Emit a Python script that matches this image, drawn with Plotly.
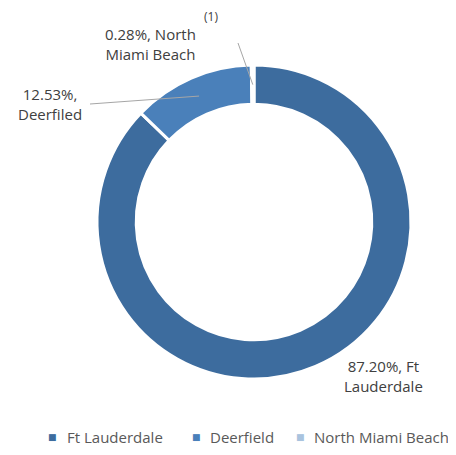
import math
import plotly.graph_objects as go

labels = ["Ft Lauderdale", "Deerfield", "North Miami Beach"]
values = [87.20, 12.53, 0.28]
label_texts = ["87.20%, Ft<br>Lauderdale", "12.53%,<br>Deerfiled", "0.28%, North<br>Miami Beach"]
colors = ["#3d6c9e", "#4a80ba", "#a9c3de"]

OFF = 8  # page body margin
W, H = 456 - OFF, 455 - OFF
cx, cy, R = 254 - OFF, 222 - OFF, 157
hole = 0.75

fig = go.Figure(go.Pie(
    labels=labels, values=values, sort=False, direction="clockwise", rotation=0,
    hole=hole, textinfo="none", hoverinfo="skip", showlegend=False,
    marker=dict(colors=colors, line=dict(color="white", width=3)),
    domain=dict(x=[(cx - R) / W, (cx + R) / W], y=[(H - cy - R) / H, (H - cy + R) / H]),
))

total = sum(values)
cum = 0
mids = []
for v in values:
    mids.append((cum + v / 2) / total * 2 * math.pi)
    cum += v

def px2paper(x, y):
    return (x - OFF) / W, 1 - (y - OFF) / H

rmid = R * (1 + hole) / 2
shapes = []
leader_ends = {1: (90, 104), 2: (238, 43)}
for i, (ex, ey) in leader_ends.items():
    a = mids[i]
    px, py = cx + OFF + rmid * math.sin(a), cy + OFF - rmid * math.cos(a)
    x0, y0 = px2paper(px, py)
    x1, y1 = px2paper(ex, ey)
    shapes.append(dict(type="line", xref="paper", yref="paper", x0=x0, y0=y0, x1=x1, y1=y1,
                       line=dict(color="#a6a6a6", width=1)))

label_pos = [(383, 376), (50, 104), (150, 44)]
annotations = []
for t, (x, y) in zip(label_texts, label_pos):
    ax_, ay_ = px2paper(x, y)
    annotations.append(dict(text=t, x=ax_, y=ay_, xref="paper", yref="paper", showarrow=False,
                            font=dict(size=15, color="#404040", family="Open Sans"),
                            xanchor="center", yanchor="middle", align="center"))
sx, sy = px2paper(211, 17)
annotations.append(dict(text="(1)", x=sx, y=sy, xref="paper", yref="paper", showarrow=False,
                        xanchor="center", yanchor="middle",
                        font=dict(size=12, color="#404040", family="Open Sans")))

# manual legend
legend_x = [(52, 65), (196, 208), (300, 312)]
legend_y = 437
for name, col, (mx, tx) in zip(labels, colors, legend_x):
    mxp, myp = px2paper(mx, legend_y)
    txp, _ = px2paper(tx, legend_y)
    annotations.append(dict(text="■", x=mxp, y=myp, xref="paper", yref="paper", showarrow=False,
                            xanchor="center", yanchor="middle",
                            font=dict(size=9, color=col, family="DejaVu Sans")))
    annotations.append(dict(text=name, x=txp, y=myp, xref="paper", yref="paper", showarrow=False,
                            xanchor="left", yanchor="middle",
                            font=dict(size=15, color="#595959", family="Open Sans")))

fig.update_layout(
    width=W, height=H, margin=dict(l=0, r=0, t=0, b=0),
    paper_bgcolor="white", plot_bgcolor="white",
    shapes=shapes, annotations=annotations,
    showlegend=False,
)
fig.write_html("out.html")
